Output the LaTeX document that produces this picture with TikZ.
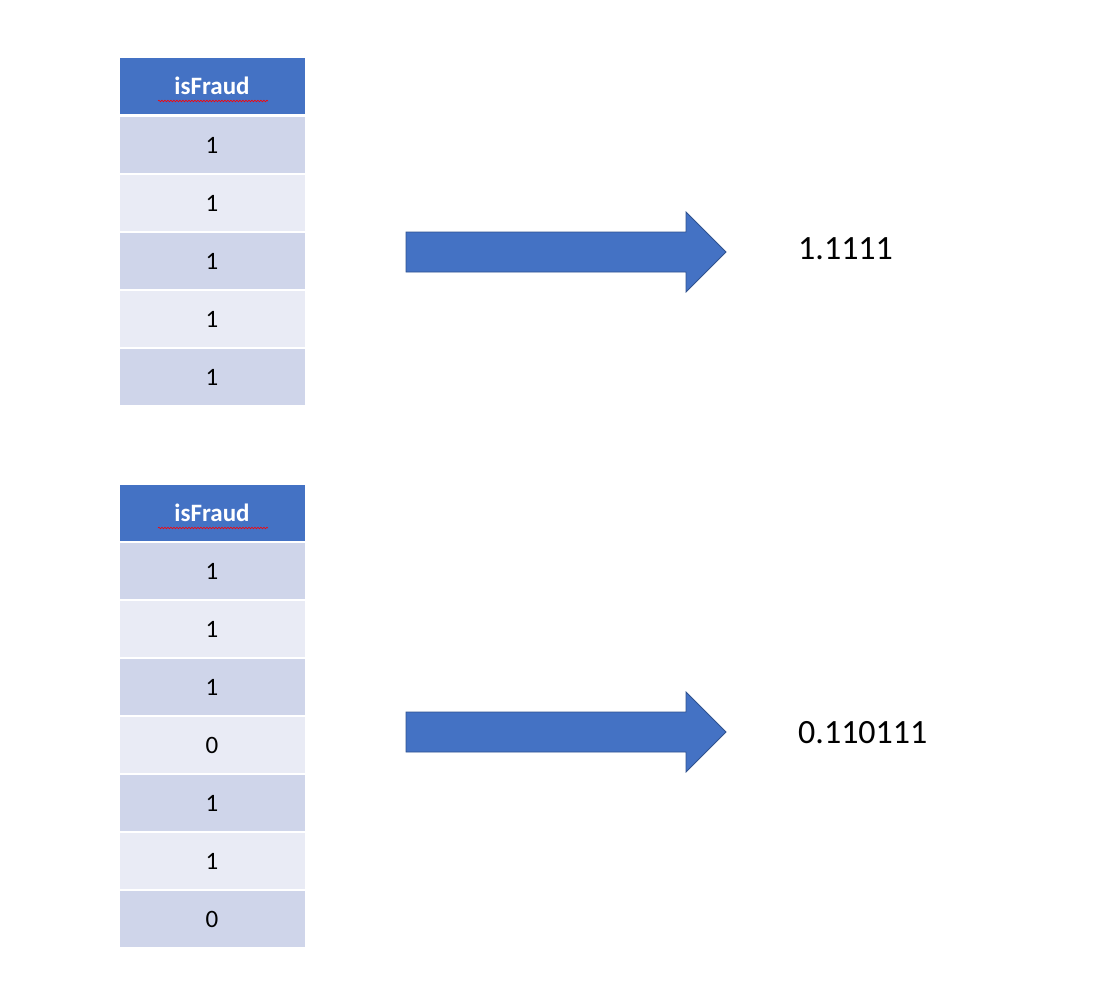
\documentclass[tikz,border=0pt]{standalone}
\usepackage{fontspec}
\setmainfont{Carlito}
\usetikzlibrary{decorations.pathmorphing}
\definecolor{hdr}{HTML}{4472C4}
\definecolor{rowA}{HTML}{CFD5EA}
\definecolor{rowB}{HTML}{E9EBF5}
\definecolor{arrEdge}{HTML}{2F528F}
\begin{document}
\begin{tikzpicture}[x=1pt,y=-1pt,
  cell/.style={draw=white,line width=2pt,minimum width=187pt,minimum height=58pt,inner sep=0pt,font=\fontsize{25}{28}\selectfont},
  head/.style={cell,fill=hdr,text=white,font=\fontsize{25}{28}\selectfont\bfseries},
  dark/.style={cell,fill=rowA},
  light/.style={cell,fill=rowB},
  big/.style={font=\fontsize{34}{40}\selectfont,anchor=west,inner sep=0pt},
  squig/.style={red,line width=0.6pt,decorate,decoration={snake,amplitude=0.8pt,segment length=3pt}},
  fatarrow/.style={fill=hdr,draw=arrEdge,line width=0.8pt}]
\useasboundingbox (0,0) rectangle (1108,998);
% table 1
\node[head] (h1) at (212,86) {isFraud};
\draw[squig] (158,101) -- (268,101);
\node[dark]  (a1) at (212,145) {1};
\node[light] (a2) at (212,203) {1};
\node[dark]  (a3) at (212,261) {1};
\node[light] (a4) at (212,319) {1};
\node[dark]  (a5) at (212,377) {1};
% table 2
\node[head] (h2) at (212,513) {isFraud};
\draw[squig] (158,528) -- (268,528);
\node[dark]  (b1) at (212,571) {1};
\node[light] (b2) at (212,629) {1};
\node[dark]  (b3) at (212,687) {1};
\node[light] (b4) at (212,745) {0};
\node[dark]  (b5) at (212,803) {1};
\node[light] (b6) at (212,861) {1};
\node[dark]  (b7) at (212,919) {0};
% arrows
\draw[fatarrow] (406,232) -- (686,232) -- (686,212) -- (726,252) -- (686,292) -- (686,272) -- (406,272) -- cycle;
\draw[fatarrow] (406,712) -- (686,712) -- (686,692) -- (726,732) -- (686,772) -- (686,752) -- (406,752) -- cycle;
% labels
\node[big] (r1) at (798,249) {1.1111};
\node[big] (r2) at (798,733) {0.110111};
\end{tikzpicture}
\end{document}
